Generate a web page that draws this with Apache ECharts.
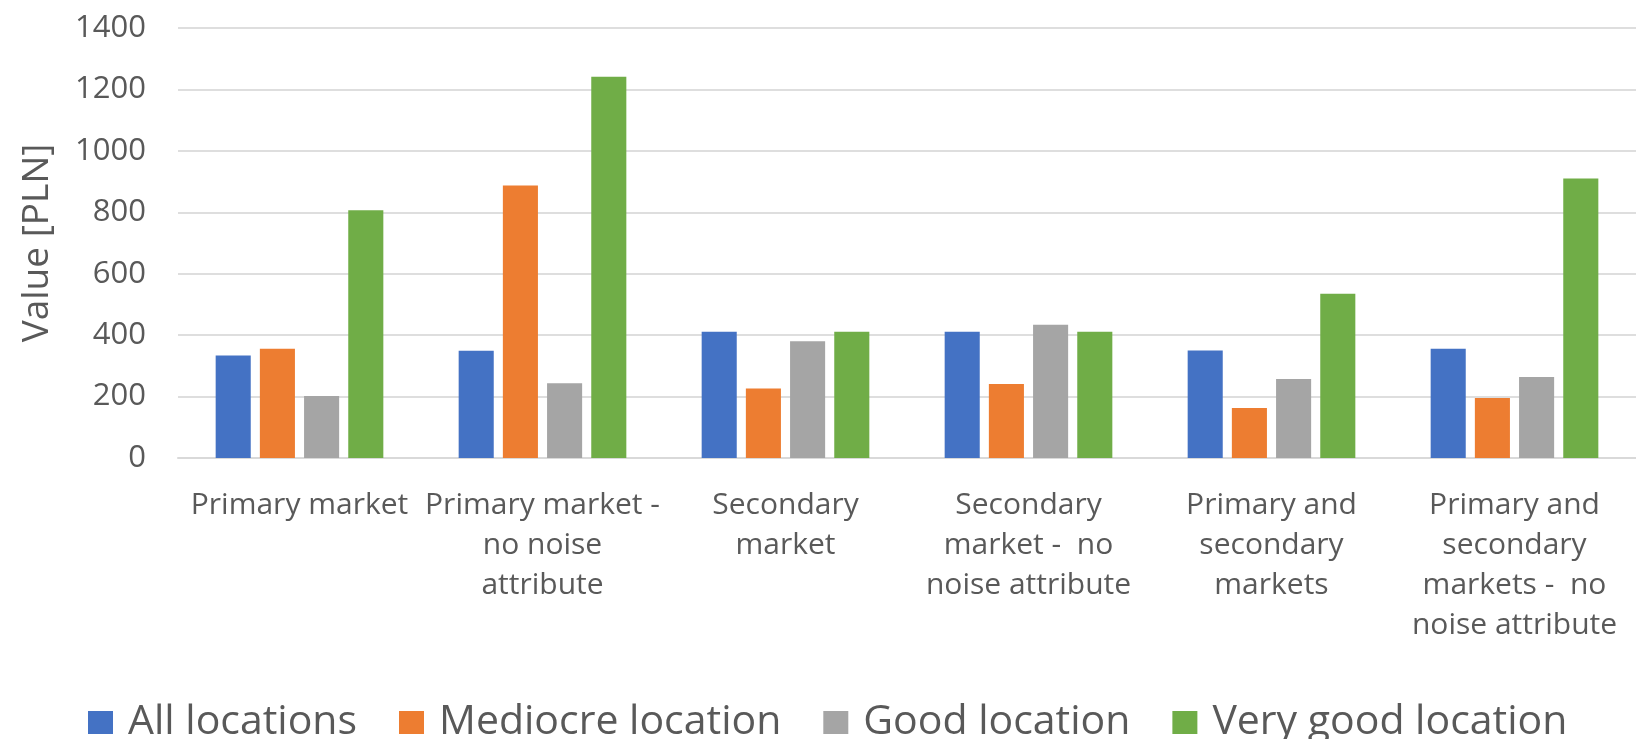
<!DOCTYPE html>
<html>
<head>
<meta charset="utf-8">
<title>Value by market and location</title>
<script src="https://cdn.jsdelivr.net/npm/echarts@6/dist/echarts.min.js"></script>
<style>
  html, body { margin: 0; padding: 0; background: #ffffff; }
  #chart { width: 1636px; height: 739px; }
</style>
</head>
<body>
<div id="chart"></div>
<script>
// Market segments (line breaks follow the wrapped axis labels)
const categories = [
  'Primary market',
  'Primary market -\nno noise\nattribute',
  'Secondary\nmarket',
  'Secondary\nmarket -  no\nnoise attribute',
  'Primary and\nsecondary\nmarkets',
  'Primary and\nsecondary\nmarkets -  no\nnoise attribute'
];

// Values in PLN for each location class
const allLocations      = [334, 349, 411, 411, 350, 356];
const mediocreLocation  = [356, 887, 226, 241, 163, 195];
const goodLocation      = [202, 243, 380, 434, 257, 264];
const veryGoodLocation  = [807, 1241, 411, 411, 535, 910];

const seriesNames = ['All locations', 'Mediocre location', 'Good location', 'Very good location'];
const seriesColors = ['#4472C4', '#ED7D31', '#A5A5A5', '#70AD47'];

// Value axis ticks
const yTicks = [0, 200, 400, 600, 800, 1000, 1200, 1400];

const textColor = '#595959';
const fontFamily = '"Open Sans", "Noto Sans", sans-serif';

const chart = echarts.init(document.getElementById('chart'));

const seriesData = [allLocations, mediocreLocation, goodLocation, veryGoodLocation];

chart.setOption({
  animation: false,
  backgroundColor: '#ffffff',
  textStyle: { fontFamily: fontFamily },
  grid: { left: 178, right: 0, top: 28, bottom: 281, containLabel: false },
  legend: {
    data: seriesNames,
    left: 83,
    top: 697,
    icon: 'rect',
    itemWidth: 25,
    itemHeight: 23,
    itemGap: 42,
    textStyle: {
      color: textColor,
      fontSize: 41,
      fontFamily: fontFamily,
      padding: [0, 0, 0, 10]
    }
  },
  xAxis: {
    type: 'category',
    data: categories,
    axisLine: { show: true, lineStyle: { color: '#d9d9d9', width: 2 } },
    axisTick: { show: false },
    axisLabel: {
      interval: 0,
      color: textColor,
      fontSize: 30,
      lineHeight: 40,
      margin: 27,
      fontFamily: fontFamily
    }
  },
  yAxis: {
    type: 'value',
    min: yTicks[0],
    max: yTicks[yTicks.length - 1],
    interval: yTicks[1] - yTicks[0],
    name: 'Value [PLN]',
    nameLocation: 'middle',
    nameGap: 122,
    nameTextStyle: { color: textColor, fontSize: 37, fontFamily: fontFamily },
    axisLine: { show: false },
    axisTick: { show: false },
    axisLabel: {
      color: textColor,
      fontSize: 31,
      margin: 32,
      fontFamily: fontFamily,
      formatter: (v) => String(v)
    },
    splitLine: { show: true, lineStyle: { color: '#dedede', width: 2 } }
  },
  series: seriesNames.map((name, i) => ({
    name: name,
    type: 'bar',
    data: seriesData[i],
    barGap: '26%',
    barCategoryGap: '31%',
    itemStyle: { color: seriesColors[i] }
  }))
});
</script>
</body>
</html>
